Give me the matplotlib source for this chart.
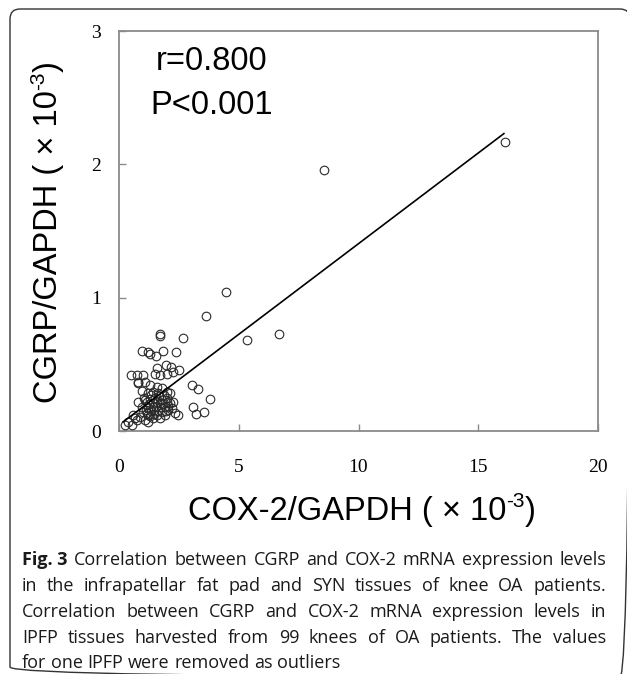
import matplotlib
matplotlib.use("Agg")
import matplotlib.pyplot as plt
from matplotlib.patches import FancyBboxPatch
import numpy as np

# ---- data ----
cox2 = [16.1, 8.55, 6.69, 5.33, 4.45, 3.65,
        3.05, 3.28, 3.82, 3.10, 3.20, 3.53,
        1.71, 1.71, 2.66, 0.97, 1.22, 1.29, 1.53, 1.85, 2.37,
        1.60, 1.96, 2.17, 2.50, 2.27, 1.99, 1.71, 1.50,
        0.50, 0.74, 1.02, 0.78, 0.81, 1.09,
        1.29, 1.57, 1.78, 1.99, 2.13, 1.43, 1.22, 1.64,
        0.81, 1.09, 0.95, 1.22, 1.43, 1.71, 1.92, 1.99, 2.13, 2.27, 1.78, 2.06,
        2.34, 2.48, 1.15, 0.88, 1.09, 1.22, 0.67, 0.39, 0.53, 0.25, 0.74,
        1.05, 1.15, 1.25, 1.30, 1.35, 1.40, 1.45, 1.50, 1.55, 1.60, 1.62, 1.68,
        1.75, 1.80, 1.85, 1.88, 1.95, 2.00, 2.05, 1.30, 1.40, 1.00, 1.12, 1.20,
        1.58, 1.70, 0.95, 1.35, 1.48, 1.90, 2.20, 0.60]
cgrp = [2.17, 1.96, 0.725, 0.683, 1.045, 0.863,
        0.345, 0.315, 0.243, 0.180, 0.130, 0.145,
        0.728, 0.710, 0.695, 0.600, 0.595, 0.580, 0.560, 0.600, 0.595,
        0.470, 0.495, 0.480, 0.455, 0.445, 0.430, 0.420, 0.430,
        0.420, 0.420, 0.420, 0.370, 0.360, 0.370,
        0.345, 0.330, 0.320, 0.295, 0.283, 0.295, 0.283, 0.283,
        0.220, 0.233, 0.183, 0.170, 0.183, 0.208, 0.183, 0.220, 0.208, 0.220, 0.145, 0.158,
        0.133, 0.120, 0.133, 0.108, 0.083, 0.070, 0.095, 0.070, 0.045, 0.045, 0.083,
        0.250, 0.220, 0.200, 0.240, 0.150, 0.210, 0.130, 0.250, 0.180, 0.220, 0.150, 0.260,
        0.180, 0.230, 0.200, 0.270, 0.150, 0.250, 0.190, 0.110, 0.100, 0.140, 0.160, 0.120,
        0.120, 0.100, 0.300, 0.270, 0.160, 0.120, 0.170, 0.120]
fit_slope = 0.136
fit_intercept = 0.045
fit_x_range = [0.17, 16.07]

x_ticks = [0, 5, 10, 15, 20]
y_ticks = [0, 1, 2, 3]
stat_lines = ["r=0.800", "P<0.001"]
x_label_parts = ["COX-2/GAPDH ( \u00d7 10", "-3", ")"]
y_label_parts = ["CGRP/GAPDH ( \u00d7 10", "-3", ")"]
caption = [
    "Fig. 3 Correlation between CGRP and COX-2 mRNA expression levels",
    "in the infrapatellar fat pad and SYN tissues of knee OA patients.",
    "Correlation between CGRP and COX-2 mRNA expression levels in",
    "IPFP tissues harvested from 99 knees of OA patients. The values",
    "for one IPFP were removed as outliers",
]

W, H = 627, 674
fig = plt.figure(figsize=(W / 100, H / 100), dpi=100)

ax = fig.add_axes([119 / W, 1 - 431 / H, (598 - 119) / W, (431 - 31) / H])
ax.plot(cox2, cgrp, 'o', mfc='none', mec='#2a2a2a', ms=6.2, mew=0.8, zorder=3)
fx = np.array(fit_x_range)
ax.plot(fx, fit_slope * fx + fit_intercept, color='black', lw=1.2, zorder=4)
ax.set_xlim(0, 20)
ax.set_ylim(0, 3)
ax.set_xticks(x_ticks)
ax.set_yticks(y_ticks)
for s in ax.spines.values():
    s.set_color('#8a8a8a')
    s.set_linewidth(1.3)
ax.tick_params(axis='x', direction='in', length=5, width=1, color='#8a8a8a', labelsize=14, pad=20)
ax.tick_params(axis='y', direction='in', length=5, width=1, color='#8a8a8a', labelsize=14, pad=13)
for lbl in ax.get_xticklabels() + ax.get_yticklabels():
    lbl.set_fontfamily('Liberation Serif')

# overlay in pixel coordinates (on top)
ov = fig.add_axes([0, 0, 1, 1])
ov.set_xlim(0, W)
ov.set_ylim(H, 0)
ov.axis('off')
ov.patch.set_visible(False)
ov.set_zorder(10)

renderer = fig.canvas.get_renderer()


def text_width(s, fs, family, weight='normal'):
    t = ov.text(0, 0, s, fontsize=fs, family=family, weight=weight)
    w = t.get_window_extent(renderer).width
    t.remove()
    return w


# stats text
ov.text(212, 62, stat_lines[0], fontsize=23.5, family='Liberation Sans', ha='center', va='center')
ov.text(212, 106, stat_lines[1], fontsize=23.5, family='Liberation Sans', ha='center', va='center')

# axis labels with real superscript
lab_fs = 23.5
sup_fs = 15.0
lab_font = 'Liberation Sans'
cap_px = 0.716 * lab_fs * 100 / 72
rise = 0.55 * cap_px


def draw_label(parts, cx, cy, rotated):
    sizes = [lab_fs, sup_fs, lab_fs]
    rises = [0, rise, 0]
    widths = [text_width(p, s, lab_font) for p, s in zip(parts, sizes)]
    total = sum(widths)
    if not rotated:
        x = cx - total / 2
        base = cy + cap_px / 2
        for p, s, r, w in zip(parts, sizes, rises, widths):
            ov.text(x, base - r, p, fontsize=s, family=lab_font, ha='left', va='baseline')
            x += w
    else:
        y = cy + total / 2
        base = cx + cap_px / 2
        for p, s, r, w in zip(parts, sizes, rises, widths):
            ov.text(base - r, y, p, fontsize=s, family=lab_font, ha='left', va='baseline',
                    rotation=90, rotation_mode='anchor')
            y -= w


draw_label(x_label_parts, 362, 508, False)
draw_label(y_label_parts, 45, 232, True)

# frame
frame = FancyBboxPatch((10, 9), 620, 668, boxstyle="round,pad=0,rounding_size=10",
                       transform=ov.transData, fill=False, ec='#333333', lw=1.0, clip_on=False)
ov.add_patch(frame)

# caption (justified)
cap_font = 'Open Sans'
cap_fs = 13.0
left, right = 22, 606
line_y = [560, 586, 612, 638, 663]

space_w = text_width("a a", cap_fs, cap_font) - text_width("aa", cap_fs, cap_font)
for i, line in enumerate(caption):
    words = line.split(' ')
    tokens = []
    if i == 0:
        tokens.append(("Fig. 3", True))
        words = words[2:]
    tokens += [(w, False) for w in words]
    widths = [text_width(w, cap_fs, cap_font, 'bold' if b else 'normal') for w, b in tokens]
    if i < len(caption) - 1:
        gap = (right - left - sum(widths)) / (len(tokens) - 1)
    else:
        gap = space_w
    x = left
    for (w, b), wd in zip(tokens, widths):
        ov.text(x, line_y[i], w, fontsize=cap_fs, family=cap_font,
                weight='bold' if b else 'normal', ha='left', va='center', color='#1a1a1a')
        x += wd + gap

fig.savefig('out.png', dpi=100)
